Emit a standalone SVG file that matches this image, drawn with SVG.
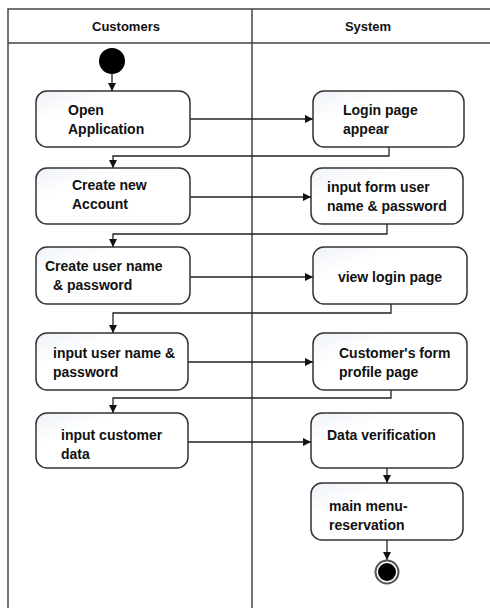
<svg xmlns="http://www.w3.org/2000/svg" width="490" height="608" viewBox="0 0 490 608">
<style>
.lane{stroke:#444;stroke-width:1.5;fill:none}
.box{fill:url(#g);stroke:#333;stroke-width:1.5}
.t{font-family:"Liberation Sans",Arial,sans-serif;font-weight:bold;font-size:14px;fill:#111}
.h{font-family:"Liberation Sans",Arial,sans-serif;font-weight:bold;font-size:13px;fill:#111;text-anchor:middle}
.c{stroke:#222;stroke-width:1.3;fill:none;marker-end:url(#a)}
</style>
<defs>
<linearGradient id="g" x1="0" y1="0" x2="1" y2="1">
<stop offset="0" stop-color="#eef2f8"/>
<stop offset="0.3" stop-color="#ffffff"/>
</linearGradient>
<marker id="a" viewBox="0 0 10 10" refX="10" refY="5" markerWidth="8" markerHeight="8" markerUnits="userSpaceOnUse" orient="auto">
<path d="M0,0 L10,5 L0,10 z" fill="#111"/>
</marker>
</defs>
<rect width="490" height="608" fill="#fff"/>
<g id="lanes">
<path class="lane" d="M8,608 V9 H490 M8,43 H490 M252,9 V608"/>
<text class="h" x="126" y="31">Customers</text>
<text class="h" x="368" y="31">System</text>
</g>
<g id="connectors">
<path class="c" d="M112,74 V91"/>
<path class="c" d="M190,119 H313"/>
<path class="c" d="M389,147 V156 H113 V168"/>
<path class="c" d="M190,197 H311"/>
<path class="c" d="M387,224 V234 H113 V247"/>
<path class="c" d="M190,277 H313"/>
<path class="c" d="M391,304 V313 H113 V333"/>
<path class="c" d="M188,362 H313"/>
<path class="c" d="M391,390 V398 H113 V413"/>
<path class="c" d="M188,442 H311"/>
<path class="c" d="M387,468 V483"/>
<path class="c" d="M387,540 V560"/>
</g>
<g id="start"><circle cx="112" cy="61" r="13" fill="#000"/></g>
<g id="n1"><rect class="box" x="36" y="91" width="154" height="56" rx="11"/><text class="t" x="68" y="115">Open</text><text class="t" x="68" y="134">Application</text></g>
<g id="n2"><rect class="box" x="313" y="91" width="151" height="56" rx="11"/><text class="t" x="343" y="115">Login page</text><text class="t" x="343" y="134">appear</text></g>
<g id="n3"><rect class="box" x="36" y="168" width="154" height="56" rx="11"/><text class="t" x="72" y="190">Create new</text><text class="t" x="72" y="209">Account</text></g>
<g id="n4"><rect class="box" x="311" y="168" width="152" height="56" rx="11"/><text class="t" x="327" y="192">input form user</text><text class="t" x="327" y="211">name &amp; password</text></g>
<g id="n5"><rect class="box" x="36" y="247" width="154" height="57" rx="11"/><text class="t" x="45" y="271">Create user name</text><text class="t" x="53" y="290">&amp; password</text></g>
<g id="n6"><rect class="box" x="313" y="247" width="154" height="57" rx="11"/><text class="t" x="390" y="282" text-anchor="middle">view login page</text></g>
<g id="n7"><rect class="box" x="36" y="333" width="152" height="57" rx="11"/><text class="t" x="53" y="358">input user name &amp;</text><text class="t" x="53" y="377">password</text></g>
<g id="n8"><rect class="box" x="313" y="333" width="154" height="57" rx="11"/><text class="t" x="339" y="358">Customer's form</text><text class="t" x="339" y="377">profile page</text></g>
<g id="n9"><rect class="box" x="36" y="413" width="152" height="55" rx="11"/><text class="t" x="61" y="440">input customer</text><text class="t" x="61" y="459">data</text></g>
<g id="n10"><rect class="box" x="311" y="413" width="152" height="55" rx="11"/><text class="t" x="327" y="440">Data verification</text></g>
<g id="n11"><rect class="box" x="311" y="483" width="152" height="57" rx="11"/><text class="t" x="329" y="511">main menu-</text><text class="t" x="329" y="530">reservation</text></g>
<g id="end"><circle cx="387" cy="572" r="11.5" fill="#fff" stroke="#555" stroke-width="2"/><circle cx="387" cy="572" r="9" fill="#000"/></g>
</svg>
